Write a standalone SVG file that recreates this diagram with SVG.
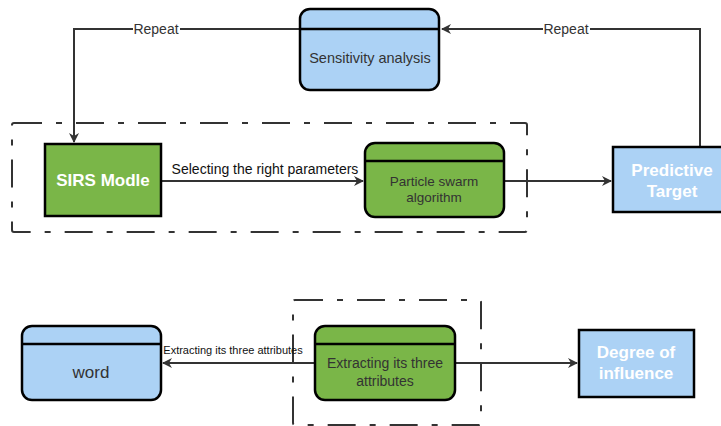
<svg xmlns="http://www.w3.org/2000/svg" width="721" height="426" viewBox="0 0 721 426">
<defs>
<marker id="arr" viewBox="0 0 10 10" refX="9" refY="5" markerWidth="5" markerHeight="5" orient="auto" markerUnits="strokeWidth">
<path d="M0,0 L10,5 L0,10 L3,5 z" fill="#333"/>
</marker>
<style>
.blue{fill:#acd2f5;stroke:#000;stroke-width:2.5}
.green{fill:#7ab648;stroke:#000;stroke-width:2.5}
.hdr{stroke:#000;stroke-width:2.5;fill:none}
.grp{fill:none;stroke:#333;stroke-width:2;stroke-dasharray:28 14 6 14}
.ln{fill:none;stroke:#333;stroke-width:2}
.t{font-family:"Liberation Sans",Arial,sans-serif;fill:#333;text-anchor:middle}
.w{font-family:"Liberation Sans",Arial,sans-serif;fill:#fff;font-weight:bold;text-anchor:middle;font-size:17px}
.lbl{fill:#fff}
</style>
</defs>
<rect width="721" height="426" fill="#fff"/>
<g id="group1"><rect class="grp" x="12" y="123" width="515" height="109" rx="2"/></g>
<g id="group2"><rect class="grp" x="293" y="300" width="188" height="125" rx="2"/></g>
<g id="connectors">
<path class="ln" d="M161,181 H363" marker-end="url(#arr)"/>
<path class="ln" d="M504,181 H611" marker-end="url(#arr)"/>
<path class="ln" d="M700,147 V29 H442" marker-end="url(#arr)"/>
<path class="ln" d="M300,29 H74 V142" marker-end="url(#arr)"/>
<path class="ln" d="M315,363 H163" marker-end="url(#arr)"/>
<path class="ln" d="M455,363 H577" marker-end="url(#arr)"/>
<rect class="lbl" x="133" y="22" width="47" height="14"/>
<text class="t" x="156" y="34" font-size="14">Repeat</text>
<rect class="lbl" x="543" y="22" width="47" height="14"/>
<text class="t" x="566" y="34" font-size="14">Repeat</text>
<text class="t" x="265" y="174" font-size="14" style="fill:#111">Selecting the right parameters</text>
<text class="t" x="233" y="354" font-size="11" style="fill:#111">Extracting its three attributes</text>
</g>
<g id="sensitivity">
<rect class="blue" x="300" y="9" width="139" height="81" rx="10"/>
<line class="hdr" x1="300" y1="29" x2="439" y2="29"/>
<text class="t" x="370" y="63" font-size="14.5">Sensitivity analysis</text>
</g>
<g id="sirs">
<rect class="green" x="45" y="144" width="116" height="72"/>
<text class="w" x="103" y="186">SIRS Modle</text>
</g>
<g id="pso">
<rect class="green" x="365" y="143" width="139" height="74" rx="10"/>
<line class="hdr" x1="365" y1="161" x2="504" y2="161"/>
<text class="t" x="434" y="186" font-size="13.5">Particle swarm</text>
<text class="t" x="434" y="202" font-size="13.5">algorithm</text>
</g>
<g id="predictive">
<rect class="blue" x="613" y="147" width="120" height="65"/>
<text class="w" x="672" y="176">Predictive</text>
<text class="w" x="672" y="197">Target</text>
</g>
<g id="word">
<rect class="blue" x="22" y="326" width="139" height="74" rx="10"/>
<line class="hdr" x1="22" y1="344" x2="161" y2="344"/>
<text class="t" x="91" y="378" font-size="17">word</text>
</g>
<g id="extract">
<rect class="green" x="315" y="326" width="140" height="74" rx="10"/>
<line class="hdr" x1="315" y1="344" x2="455" y2="344"/>
<text class="t" x="385" y="368" font-size="14">Extracting its three</text>
<text class="t" x="385" y="386" font-size="14">attributes</text>
</g>
<g id="degree">
<rect class="blue" x="579" y="330" width="115" height="67"/>
<text class="w" x="636" y="358">Degree of</text>
<text class="w" x="636" y="379">influence</text>
</g>
</svg>
